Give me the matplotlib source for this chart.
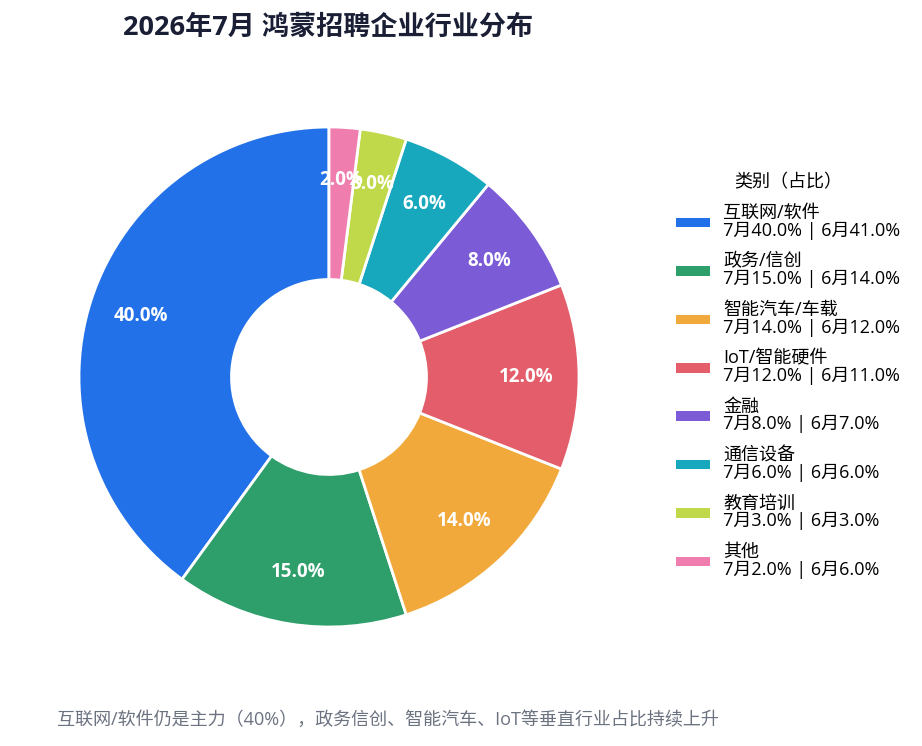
import matplotlib
matplotlib.use("Agg")
import matplotlib.pyplot as plt
from matplotlib.patches import Patch

plt.rcParams['font.family'] = ['Open Sans', 'Noto Sans CJK SC', 'DejaVu Sans']

categories = ["互联网/软件", "政务/信创", "智能汽车/车载", "IoT/智能硬件", "金融", "通信设备", "教育培训", "其他"]
july = [40.0, 15.0, 14.0, 12.0, 8.0, 6.0, 3.0, 2.0]
june = [41.0, 14.0, 12.0, 11.0, 7.0, 6.0, 3.0, 6.0]
colors = ["#2271E8", "#2E9E6B", "#F2A93B", "#E35D6B", "#7B5BD6", "#18A8BE", "#C0D94A", "#EF7EAE"]

title = "2026年7月 鸿蒙招聘企业行业分布"
footer = "互联网/软件仍是主力（40%），政务信创、智能汽车、IoT等垂直行业占比持续上升"

fig = plt.figure(figsize=(9.22, 7.46), dpi=100)
ax = fig.add_axes([79/922, 1 - 627/746, 500/922, 500/746])

wedges, texts, autotexts = ax.pie(
    july, colors=colors, startangle=90, counterclock=True,
    autopct=lambda p: f"{p:.1f}%", pctdistance=0.79,
    wedgeprops=dict(width=0.61, edgecolor="white", linewidth=2),
    textprops=dict(color="white", fontsize=13.5, fontweight="bold"),
)
ax.set_xlim(-1.0, 1.0)
ax.set_ylim(-1.0, 1.0)
ax.set_aspect("equal")

fig.text(328/922, 1 - 28/746, title, ha="center", va="center", fontsize=19.5, fontweight="bold", color="#1a1f36")
fig.text(57/922, 1 - 720/746, footer, ha="left", va="center", fontsize=13, color="#6b7280")

handles = [Patch(facecolor=c, edgecolor="none") for c in colors]
labels = [f"{c}\n7月{a:.1f}% | 6月{b:.1f}%" for c, a, b in zip(categories, july, june)]
leg = fig.legend(handles, labels, title="类别（占比）", loc="upper left",
                 bbox_to_anchor=(660/922, 1 - 157/746), frameon=False,
                 fontsize=13, title_fontsize=13, handlelength=1.85, handleheight=0.45,
                 labelspacing=0.72, handletextpad=0.75)
for t in leg.get_texts():
    t.set_linespacing(0.95)
fig.savefig("out.png", dpi=100, facecolor="white")
